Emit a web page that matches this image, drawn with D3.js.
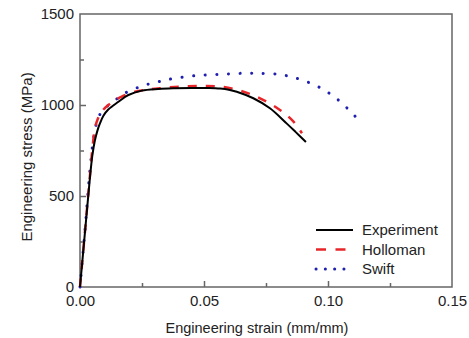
<!DOCTYPE html>
<html>
<head>
<meta charset="utf-8">
<script src="https://cdn.jsdelivr.net/npm/d3@7"></script>
<style>
body { margin: 0; background: #fff; }
text { font-family: "Liberation Sans", Arial, sans-serif; fill: #222; }
</style>
</head>
<body>
<svg id="chart" width="469" height="338"></svg>
<script>
var width = 469, height = 338;
var margin = { left: 80, top: 14, right: 17, bottom: 51 };

// strain (mm/mm), stress (MPa)
var experimentStrain = [0, 0.0020, 0.0040, 0.0050, 0.0060, 0.0070, 0.0080, 0.0095, 0.0114, 0.0155, 0.0195, 0.0249, 0.0316, 0.0383, 0.045, 0.0520, 0.0565, 0.0600, 0.0632, 0.0699, 0.0766, 0.0833, 0.0870, 0.0911];
var experimentStress = [0, 300, 600, 725, 805, 858, 897, 942, 975, 1018, 1055, 1079, 1088, 1092, 1094, 1093, 1090, 1084, 1073, 1037, 982, 899, 851, 797];

var hollomanStrain = [0, 0.0020, 0.0040, 0.0050, 0.0060, 0.0072, 0.0087, 0.0114, 0.0140, 0.0168, 0.0222, 0.0280, 0.0330, 0.0403, 0.0484, 0.0565, 0.0645, 0.0726, 0.0806, 0.0860, 0.0895];
var hollomanStress = [0, 305, 610, 760, 870, 925, 963, 1000, 1025, 1046, 1073, 1086, 1093, 1101, 1104, 1101, 1079, 1037, 973, 910, 845];

var swiftStrain = [0, 0.0020, 0.0040, 0.0054, 0.0067, 0.0087, 0.0134, 0.0180, 0.0235, 0.0276, 0.0330, 0.0383, 0.0464, 0.0558, 0.0652, 0.0720, 0.0793, 0.0840, 0.0887, 0.0938, 0.0985, 0.1030, 0.1078, 0.1125];
var swiftStress = [0, 310, 640, 810, 900, 963, 1018, 1064, 1097, 1115, 1132, 1147, 1161, 1168, 1174, 1174, 1170, 1159, 1141, 1115, 1082, 1040, 982, 915];

var xTicks = [0, 0.05, 0.10, 0.15];
var xMinor = [0.025, 0.075, 0.125];
var yTicks = [0, 500, 1000, 1500];
var yMinor = [250, 750, 1250];

var seriesNames = ["Experiment", "Holloman", "Swift"];
var seriesColors = ["#000000", "#e8262a", "#2020b0"];
var seriesDash = [null, "9,9", "0.1,11.5"];
var seriesWidth = [2, 2.5, 3];

var svg = d3.select("#chart");
var plotW = width - margin.left - margin.right;
var plotH = height - margin.top - margin.bottom;

var x = d3.scaleLinear().domain([0, 0.15]).range([margin.left, margin.left + plotW]);
var y = d3.scaleLinear().domain([0, 1500]).range([margin.top + plotH, margin.top]);

var axisColor = "#666";

// frame
svg.append("rect")
    .attr("x", margin.left).attr("y", margin.top)
    .attr("width", plotW).attr("height", plotH)
    .attr("fill", "none")
    .attr("stroke", axisColor)
    .attr("stroke-width", 1.5);

// bottom axis, ticks inside
var xAxis = svg.append("g")
    .attr("transform", "translate(0," + (margin.top + plotH) + ")")
    .call(d3.axisBottom(x).tickValues(xTicks).tickFormat(d3.format(".2f")).tickSize(-6).tickPadding(8));
xAxis.selectAll(".tick").filter(function(d) { return d === 0 || d === 0.15; }).select("line").remove();
var xMinorG = svg.append("g")
    .attr("transform", "translate(0," + (margin.top + plotH) + ")")
    .call(d3.axisBottom(x).tickValues(xMinor).tickFormat("").tickSize(-4));

// left axis
var yAxis = svg.append("g")
    .attr("transform", "translate(" + margin.left + ",0)")
    .call(d3.axisLeft(y).tickValues(yTicks).tickFormat(d3.format("d")).tickSize(-6).tickPadding(6));
yAxis.selectAll(".tick").filter(function(d) { return d === 0 || d === 1500; }).select("line").remove();
var yMinorG = svg.append("g")
    .attr("transform", "translate(" + margin.left + ",0)")
    .call(d3.axisLeft(y).tickValues(yMinor).tickFormat("").tickSize(-4));

[xAxis, xMinorG, yAxis, yMinorG].forEach(function(g) {
    g.select(".domain").remove();
    g.selectAll("line").attr("stroke", axisColor).attr("stroke-width", 1.5);
    g.selectAll("text").style("font-size", "15px").attr("fill", "#222");
});

// axis titles
svg.append("text")
    .attr("x", 257).attr("y", 333)
    .attr("text-anchor", "middle")
    .style("font-size", "14.5px")
    .text("Engineering strain (mm/mm)");

svg.append("text")
    .attr("transform", "translate(32,157) rotate(-90)")
    .attr("text-anchor", "middle")
    .style("font-size", "15px")
    .text("Engineering stress (MPa)");

// curves
var line = d3.line()
    .x(function(d) { return x(d[0]); })
    .y(function(d) { return y(d[1]); })
    .curve(d3.curveCatmullRom.alpha(0.5));

var series = [
    d3.zip(experimentStrain, experimentStress),
    d3.zip(hollomanStrain, hollomanStress),
    d3.zip(swiftStrain, swiftStress)
];

// draw Swift first, then Holloman, then Experiment on top
[2, 1, 0].forEach(function(i) {
    svg.append("path")
        .datum(series[i])
        .attr("d", line)
        .attr("fill", "none")
        .attr("stroke", seriesColors[i])
        .attr("stroke-width", seriesWidth[i])
        .attr("stroke-linecap", i === 2 ? "round" : "butt")
        .attr("stroke-dasharray", seriesDash[i]);
});

// legend
var legend = svg.append("g");
seriesNames.forEach(function(name, i) {
    var ly = 230 + i * 19.5;
    legend.append("line")
        .attr("x1", 316).attr("x2", 353)
        .attr("y1", ly).attr("y2", ly)
        .attr("stroke", seriesColors[i])
        .attr("stroke-width", seriesWidth[i])
        .attr("stroke-linecap", i === 2 ? "round" : "butt")
        .attr("stroke-dasharray", i === 2 ? "0.1,9.2" : (i === 1 ? "10,9.5" : null));
    legend.append("text")
        .attr("x", 362).attr("y", ly + 5)
        .style("font-size", "15px")
        .text(name);
});
</script>
</body>
</html>
